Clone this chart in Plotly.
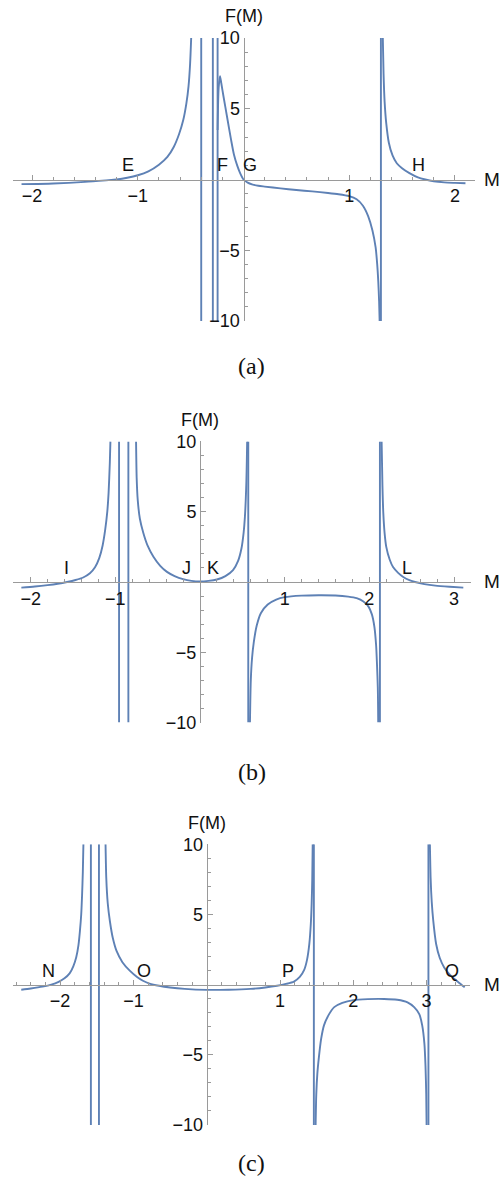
import plotly.graph_objects as go

W, H = 503, 1183
LINE = "#5E81B5"
AXIS = "#9a9a9a"
SANS = "Liberation Sans, Arial, sans-serif"
SERIF = "Liberation Serif, Times New Roman, serif"

# ---------------- data (None separates curve branches) ----------------
# panel (a)
a_x = [-2.10, -1.80, -1.50, -1.30, -1.20, -1.10, -1.00, -0.90, -0.80, -0.72, -0.66, -0.61, -0.57, -0.54, -0.52, -0.505, -0.495, None,
       -0.40, -0.40, None,
       -0.29, -0.29, None,
       -0.245, -0.245, None,
       -0.245, -0.235, -0.222, -0.21, -0.19, -0.155, -0.12, -0.09, -0.06, -0.03, 0.0, 0.04, 0.08, 0.14, 0.20, 0.35, 0.50, 0.65, 0.80, 0.90, 1.00, 1.07, 1.13, 1.18, 1.22, 1.25, 1.265, 1.275, 1.283, 1.288, None,
       1.30, 1.30, None,
       1.318, 1.325, 1.335, 1.35, 1.375, 1.41, 1.45, 1.50, 1.57, 1.65, 1.72, 1.80, 1.90, 2.00, 2.10]
a_y = [-0.33, -0.28, -0.17, -0.06, 0.0, 0.12, 0.30, 0.58, 1.05, 1.60, 2.30, 3.20, 4.20, 5.40, 6.60, 8.20, 10.0, None,
       10.0, -10.0, None,
       -10.0, 10.0, None,
       10.0, -10.0, None,
       3.5, 6.5, 7.3, 6.8, 5.9, 4.4, 2.9, 1.75, 1.0, 0.42, 0.0, -0.22, -0.34, -0.44, -0.50, -0.63, -0.74, -0.84, -0.95, -1.04, -1.18, -1.40, -1.85, -2.6, -3.6, -4.8, -6.0, -7.2, -8.6, -10.0, None,
       -10.0, 10.0, None,
       10.0, 7.5, 5.5, 4.0, 2.6, 1.7, 1.15, 0.80, 0.45, 0.15, 0.0, -0.12, -0.20, -0.24, -0.27]
a_labels = ["E", "F", "G", "H"]
a_label_x = [-1.093, -0.203, 0.061, 1.651]

# panel (b)
b_x = [-2.11, -1.95, -1.80, -1.68, -1.57, -1.47, -1.38, -1.30, -1.24, -1.19, -1.15, -1.12, -1.095, -1.08, -1.065, -1.058, None,
       -0.956, -0.956, None,
       -0.846, -0.846, None,
       -0.755, -0.748, -0.735, -0.71, -0.67, -0.62, -0.55, -0.47, -0.39, -0.30, -0.20, -0.10, 0.0, 0.10, 0.20, 0.30, 0.39, 0.45, 0.49, 0.515, 0.53, 0.54, 0.548, 0.553, 0.557, None,
       0.57, 0.57, None,
       0.59, 0.60, 0.615, 0.635, 0.67, 0.72, 0.80, 0.90, 1.00, 1.20, 1.40, 1.60, 1.75, 1.85, 1.93, 1.99, 2.03, 2.06, 2.08, 2.09, 2.10, 2.105, None,
       2.125, 2.125, None,
       2.145, 2.155, 2.165, 2.18, 2.20, 2.24, 2.28, 2.34, 2.40, 2.48, 2.54, 2.65, 2.78, 2.95, 3.11]
b_y = [-0.40, -0.32, -0.22, -0.12, 0.0, 0.14, 0.32, 0.62, 1.05, 1.70, 2.60, 3.70, 5.00, 6.30, 8.50, 10.0, None,
       10.0, -10.0, None,
       -10.0, 10.0, None,
       10.0, 7.4, 5.8, 4.5, 3.5, 2.6, 1.8, 1.15, 0.72, 0.42, 0.20, 0.08, 0.04, 0.08, 0.18, 0.42, 0.85, 1.5, 2.4, 3.5, 4.6, 5.8, 7.2, 8.6, 10.0, None,
       10.0, -10.0, None,
       -10.0, -7.0, -5.4, -4.3, -3.1, -2.2, -1.6, -1.25, -1.08, -0.97, -0.94, -0.96, -1.04, -1.15, -1.38, -1.75, -2.3, -3.2, -4.5, -5.8, -7.5, -10.0, None,
       -10.0, 10.0, None,
       10.0, 6.8, 4.9, 3.5, 2.5, 1.6, 1.06, 0.65, 0.36, 0.12, 0.0, -0.15, -0.26, -0.34, -0.40]
b_labels = ["I", "J", "K", "L"]
b_label_x = [-1.571, -0.165, 0.154, 2.445]

# panel (c)
c_x = [-2.53, -2.40, -2.24, -2.12, -2.02, -1.94, -1.87, -1.82, -1.78, -1.75, -1.73, -1.712, -1.70, -1.69, -1.682, None,
       -1.58, -1.58, None,
       -1.47, -1.47, None,
       -1.38, -1.37, -1.35, -1.32, -1.28, -1.23, -1.15, -1.05, -0.95, -0.87, -0.78, -0.65, -0.50, -0.30, 0.0, 0.30, 0.60, 0.80, 0.96, 1.08, 1.19, 1.27, 1.33, 1.37, 1.40, 1.42, 1.432, 1.44, 1.446, None,
       1.462, 1.462, None,
       1.486, 1.495, 1.51, 1.53, 1.56, 1.60, 1.67, 1.74, 1.85, 2.00, 2.20, 2.42, 2.60, 2.74, 2.83, 2.90, 2.94, 2.97, 2.985, 2.995, 3.00, None,
       3.025, 3.025, None,
       3.045, 3.055, 3.07, 3.09, 3.13, 3.18, 3.24, 3.31, 3.38, 3.45, 3.52]
c_y = [-0.36, -0.27, -0.14, 0.0, 0.20, 0.45, 0.80, 1.30, 1.95, 2.80, 3.80, 5.00, 6.40, 8.00, 10.0, None,
       10.0, -10.0, None,
       -10.0, 10.0, None,
       10.0, 7.6, 5.8, 4.5, 3.3, 2.4, 1.6, 1.0, 0.55, 0.28, 0.08, -0.08, -0.20, -0.30, -0.37, -0.36, -0.30, -0.20, -0.08, 0.05, 0.22, 0.55, 1.05, 1.8, 2.9, 4.3, 5.8, 7.5, 10.0, None,
       10.0, -10.0, None,
       -10.0, -7.8, -6.3, -5.2, -3.9, -2.9, -2.1, -1.6, -1.3, -1.1, -1.03, -1.02, -1.08, -1.26, -1.6, -2.1, -2.9, -4.2, -5.8, -7.8, -10.0, None,
       -10.0, 10.0, None,
       10.0, 7.6, 5.9, 4.6, 2.9, 1.9, 1.23, 0.75, 0.40, 0.10, -0.19]
c_labels = ["N", "O", "P", "Q"]
c_label_x = [-2.165, -0.855, 1.109, 3.346]

y_ticks = [-10, -5, 5, 10]
y_ticktext = ["\u221210", "\u22125", "5", "10"]
captions = ["(a)", "(b)", "(c)"]

# ---------------- layout geometry (pixels) ----------------
panels = [
    dict(x=a_x, y=a_y, lab=a_labels, labx=a_label_x, xl=13, xr=475, x0=243.5, ux=105.7,
         yt=38, yb=321, xt=[-2, -1, 1, 2], cap_y=366),
    dict(x=b_x, y=b_y, lab=b_labels, labx=b_label_x, xl=13, xr=471, x0=200.0, ux=84.67,
         yt=441.4, yb=722.6, xt=[-2, -1, 1, 2, 3], cap_y=772),
    dict(x=c_x, y=c_y, lab=c_labels, labx=c_label_x, xl=13.3, xr=470, x0=206.7, ux=73.3,
         yt=844.3, yb=1125, xt=[-2, -1, 1, 2, 3], cap_y=1163),
]

fig = go.Figure()
annotations = []
layout = dict(width=W, height=H, margin=dict(l=0, r=0, t=0, b=0, pad=0, autoexpand=False),
              paper_bgcolor="white", plot_bgcolor="white", showlegend=False)

for i, p in enumerate(panels):
    n = "" if i == 0 else str(i + 1)
    xr = [(p["xl"] - p["x0"]) / p["ux"], (p["xr"] - p["x0"]) / p["ux"]]
    y0px = (p["yt"] + p["yb"]) / 2
    fig.add_trace(go.Scatter(x=p["x"], y=p["y"], mode="lines", xaxis="x" + n, yaxis="y" + n,
                             line=dict(color=LINE, width=1.9, shape="spline", smoothing=0.7),
                             connectgaps=False, hoverinfo="skip"))
    minor_x = [round(k * 0.2, 1) for k in range(-20, 21)
               if xr[0] <= k * 0.2 <= xr[1] and k % 5 != 0]
    layout["xaxis" + n] = dict(
        domain=[p["xl"] / W, p["xr"] / W], range=xr, anchor="free", position=1 - y0px / H,
        automargin=False,
        showline=True, linecolor=AXIS, linewidth=1, ticks="inside", ticklen=5, tickcolor=AXIS,
        tickmode="array", tickvals=p["xt"], ticktext=[str(v).replace("-", "\u2212") for v in p["xt"]],
        tickfont=dict(family=SANS, size=18, color="#111"), showgrid=False, zeroline=False,
        minor=dict(tickmode="array", tickvals=minor_x, ticks="inside", ticklen=3, tickcolor=AXIS, showgrid=False),
        fixedrange=True)
    layout["yaxis" + n] = dict(
        domain=[1 - p["yb"] / H, 1 - p["yt"] / H], range=[-10, 10], anchor="free",
        position=p["x0"] / W, automargin=False,
        showline=True, linecolor=AXIS, linewidth=1, ticks="inside", ticklen=5, tickcolor=AXIS,
        tickmode="array", tickvals=y_ticks, ticktext=y_ticktext,
        tickfont=dict(family=SANS, size=18, color="#111"), showgrid=False, zeroline=False,
        minor=dict(tickmode="array", tickvals=[v for v in range(-9, 10) if v % 5 != 0],
                   ticks="inside", ticklen=3, tickcolor=AXIS, showgrid=False),
        fixedrange=True)
    xref, yref = "x" + n, "y" + n
    annotations.append(dict(x=p["x0"] / W, y=1 - (p["yt"] - 21.5) / H, xref="paper", yref="paper",
                            text="F(M)", showarrow=False, xanchor="center", yanchor="middle",
                            font=dict(family=SANS, size=18, color="#111")))
    annotations.append(dict(x=491.5 / W, y=1 - y0px / H, xref="paper", yref="paper", text="M",
                            showarrow=False, xanchor="center", yanchor="middle",
                            font=dict(family=SANS, size=19, color="#111")))
    for t, lx in zip(p["lab"], p["labx"]):
        annotations.append(dict(x=lx, y=1.0, xref=xref, yref=yref, text=t, showarrow=False,
                                xanchor="center", yanchor="middle", font=dict(family=SANS, size=18, color="#111")))
    annotations.append(dict(x=252 / W, y=1 - p["cap_y"] / H, xref="paper", yref="paper", text=captions[i],
                            showarrow=False, xanchor="center", yanchor="middle",
                            font=dict(family=SERIF, size=24, color="#111")))

layout["annotations"] = annotations
fig.update_layout(**layout)
fig.write_html("out.html")
